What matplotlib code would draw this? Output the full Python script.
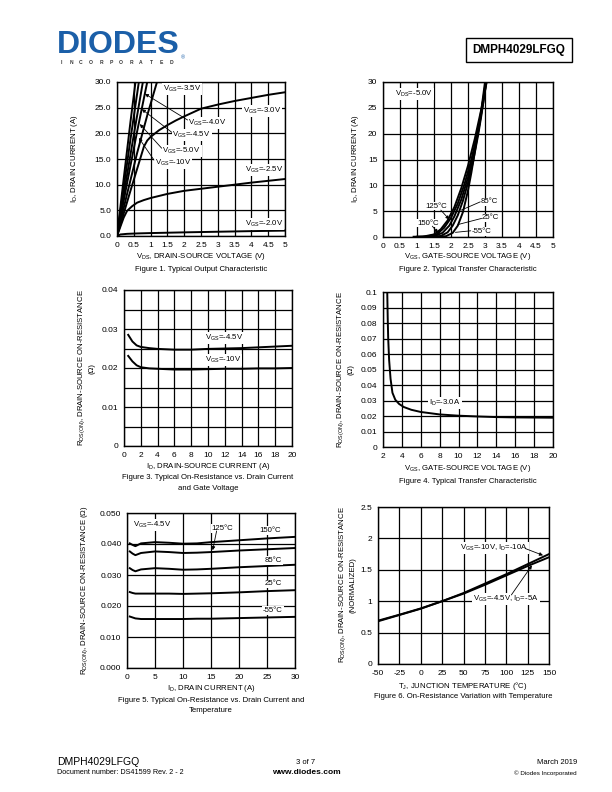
import numpy as np
import matplotlib
matplotlib.use('Agg')
import matplotlib.pyplot as plt

plt.rcParams['font.family'] = ['Liberation Sans', 'DejaVu Sans']
plt.rcParams['mathtext.fontset'] = 'custom'
plt.rcParams['mathtext.rm'] = 'Liberation Sans'
plt.rcParams['mathtext.it'] = 'Liberation Sans'
plt.rcParams['mathtext.default'] = 'rm'

# ---- Figure 1: output characteristic (VDS, ID) ----
f1_vgs_labels = ['-10V', '-5.0V', '-4.5V', '-4.0V', '-3.5V']
f1_steep_v = [[0, 0.2, 0.4, 0.55],
              [0, 0.2, 0.4, 0.65],
              [0, 0.25, 0.5, 0.77],
              [0, 0.3, 0.6, 0.9],
              [0, 0.3, 0.6, 0.9, 1.19]]
f1_steep_i = [[0, 11.2, 22.2, 30],
              [0, 9.5, 18.8, 30],
              [0, 10.0, 19.7, 30],
              [0, 10.3, 20.4, 30],
              [0, 8.2, 16.2, 23.5, 30]]
f1_v30 = [0, 0.4, 0.8, 0.9, 1.0, 1.25, 1.5, 1.75, 2.0, 2.5, 3.0, 3.5, 4.0, 4.5, 5.0]
f1_i30 = [0, 8.8, 17.4, 18.6, 19.3, 20.6, 21.6, 22.5, 23.3, 24.8, 25.6, 26.3, 26.9, 27.5, 28.0]
f1_v25 = [0, 0.1, 0.2, 0.3, 0.45, 0.6, 0.8, 1.0, 1.5, 2.0, 2.5, 3.0, 3.5, 4.0, 4.5, 5.0]
f1_i25 = [0, 1.8, 3.6, 4.9, 5.8, 6.5, 7.0, 7.4, 8.2, 8.8, 9.2, 9.6, 10.0, 10.4, 10.75, 11.1]
f1_v20 = [0, 0.1, 0.3, 0.6, 1.0, 1.5, 2.0, 2.5, 3.0, 3.5, 4.0, 4.5, 5.0]
f1_i20 = [0, 0.3, 0.42, 0.5, 0.57, 0.64, 0.71, 0.77, 0.83, 0.89, 0.95, 1.0, 1.05]

# ---- Figure 2: transfer characteristic (VGS, ID) per temperature ----
f2_temps = ['150', '125', '85', '25', '-55']
f2_v = [[0.9, 1.2, 1.5, 1.7, 1.9, 2.1, 2.3, 2.5, 2.7, 2.9, 3.05],
        [1.0, 1.3, 1.6, 1.8, 2.0, 2.2, 2.4, 2.6, 2.8, 2.95, 3.04],
        [1.2, 1.5, 1.75, 1.95, 2.1, 2.3, 2.5, 2.7, 2.85, 3.02],
        [1.4, 1.7, 1.9, 2.05, 2.2, 2.35, 2.5, 2.65, 2.8, 2.9, 3.0, 3.03],
        [1.6, 1.85, 2.05, 2.2, 2.35, 2.5, 2.6, 2.7, 2.8, 2.9, 3.0]]
f2_i = [[0.05, 0.1, 0.5, 1.5, 3.2, 5.8, 9.4, 13.8, 19.0, 25.0, 30],
        [0.05, 0.1, 0.6, 1.8, 3.7, 6.5, 10.3, 15.0, 20.8, 26.0, 30],
        [0.05, 0.15, 0.8, 2.2, 4.0, 7.2, 11.5, 17.0, 22.2, 30],
        [0.05, 0.2, 0.9, 2.2, 4.2, 7.0, 10.5, 14.6, 19.8, 23.8, 28.5, 30],
        [0.05, 0.15, 0.8, 2.2, 4.8, 9.0, 12.5, 16.5, 20.5, 25.0, 30]]

# ---- Figure 3: RDS(on) vs ID ----
f3_id = [0.5, 1.0, 1.5, 2, 3, 4, 6, 8, 10, 12, 14, 16, 18, 20]
f3_r45 = [0.0285, 0.0268, 0.0258, 0.0254, 0.0251, 0.0249, 0.0247, 0.0247, 0.0249, 0.025, 0.0251, 0.0253, 0.0255, 0.0257]
f3_r10 = [0.0231, 0.0217, 0.0207, 0.0202, 0.0199, 0.0198, 0.0196, 0.0196, 0.0197, 0.0198, 0.0198, 0.0199, 0.0199, 0.02]

# ---- Figure 4: RDS(on) vs VGS ----
f4_vgs = [2.45, 2.5, 2.55, 2.65, 2.8, 3.0, 3.3, 3.7, 4.2, 5, 6, 8, 10, 12, 14, 16, 18, 20]
f4_r = [0.1, 0.083, 0.07, 0.056, 0.044, 0.035, 0.0305, 0.0278, 0.0258, 0.0240, 0.0226, 0.0210, 0.0202, 0.0197, 0.0193, 0.0191, 0.019, 0.0189]

# ---- Figure 5: RDS(on) vs ID per temperature ----
f5_id = [0.5, 1.0, 1.5, 2.5, 5, 7.5, 10, 12.5, 15, 20, 25, 30]
f5_temps = ['150', '125', '85', '25', '-55']
f5_r = [[0.0402, 0.0397, 0.0393, 0.0402, 0.0406, 0.0404, 0.0401, 0.0402, 0.0406, 0.0412, 0.0418, 0.0423],
        [0.0376, 0.0369, 0.0364, 0.0371, 0.0376, 0.0374, 0.0371, 0.0372, 0.0374, 0.0379, 0.0383, 0.0387],
        [0.0322, 0.0316, 0.0312, 0.0318, 0.0322, 0.0320, 0.0317, 0.0318, 0.0320, 0.0325, 0.0329, 0.0333],
        [0.0245, 0.0242, 0.0240, 0.0240, 0.0240, 0.0240, 0.0239, 0.0240, 0.0241, 0.0244, 0.0248, 0.0251],
        [0.0166, 0.0163, 0.0160, 0.0158, 0.0158, 0.0158, 0.0158, 0.0159, 0.0159, 0.0161, 0.0163, 0.0165]]

# ---- Figure 6: normalized RDS(on) vs TJ ----
f6_tj = [-50, -25, 0, 25, 50, 75, 100, 125, 150]
f6_r10 = [0.68, 0.78, 0.88, 1.0, 1.13, 1.28, 1.43, 1.59, 1.75]
f6_r45 = [0.69, 0.785, 0.885, 1.0, 1.12, 1.26, 1.41, 1.56, 1.70]

W, H = 612, 792
fig = plt.figure(figsize=(W / 100, H / 100), dpi=100)


def px_axes(l, t, r, b):
    return fig.add_axes([l / W, 1 - b / H, (r - l) / W, (b - t) / H])


def ftext(x, y, s, **kw):
    kw.setdefault('ha', 'center')
    kw.setdefault('va', 'center')
    kw.setdefault('fontsize', 5.6)
    return fig.text(x / W, 1 - y / H, s, **kw)


def style(ax, xlim, ylim, xt, yt, xtl, ytl, yminor=None):
    ax.set_xlim(*xlim)
    ax.set_ylim(*ylim)
    ax.set_xticks(xt)
    ax.set_xticklabels(xtl)
    ax.set_yticks(yt)
    ax.set_yticklabels(ytl)
    if yminor is not None:
        ax.set_yticks(yminor, minor=True)
        ax.grid(True, which='minor', axis='y', color='k', lw=0.9)
        ax.tick_params(which='minor', length=0)
    ax.grid(True, color='k', lw=0.9)
    ax.set_axisbelow(True)
    ax.tick_params(length=0, labelsize=6, pad=4)
    for sp in ax.spines.values():
        sp.set_linewidth(1.0)


def lab(ax, x, y, s, ha='left'):
    ax.text(x, y, s, fontsize=5.6, ha=ha, va='center', zorder=6,
            bbox=dict(fc='white', ec='none', pad=0.6))


def arrow(ax, tail, tip, head=True):
    ax.annotate('', xy=tip, xytext=tail, zorder=7,
                arrowprops=dict(arrowstyle='-|>' if head else '-', lw=0.6,
                                color='k', mutation_scale=5, shrinkA=0, shrinkB=0))


LW = 1.4

# Figure 1
ax1 = px_axes(117, 82, 285, 236)
style(ax1, (0, 5), (0, 30), np.arange(0, 5.01, 0.5), np.arange(0, 30.1, 5),
      ['0', '0.5', '1', '1.5', '2', '2.5', '3', '3.5', '4', '4.5', '5'],
      ['%.1f' % v for v in np.arange(0, 30.1, 5)])
for v, i in zip(f1_steep_v, f1_steep_i):
    ax1.plot(v, i, color='k', lw=LW)
ax1.plot(f1_v30, f1_i30, color='k', lw=LW)
ax1.plot(f1_v25, f1_i25, color='k', lw=LW)
ax1.plot(f1_v20, f1_i20, color='k', lw=LW)
lab(ax1, 1.37, 28.6, 'V$_{GS}$=-3.5V')
lab(ax1, 2.12, 22.0, 'V$_{GS}$=-4.0V')
lab(ax1, 1.65, 19.6, 'V$_{GS}$=-4.5V')
lab(ax1, 1.35, 16.6, 'V$_{GS}$=-5.0V')
lab(ax1, 1.12, 14.3, 'V$_{GS}$=-10V')
lab(ax1, 3.76, 24.3, 'V$_{GS}$=-3.0V')
lab(ax1, 3.81, 12.9, 'V$_{GS}$=-2.5V')
lab(ax1, 3.81, 2.3, 'V$_{GS}$=-2.0V')
arrow(ax1, (2.1, 22.6), (0.83, 27.7))
arrow(ax1, (1.63, 20.2), (0.74, 24.7))
arrow(ax1, (1.33, 17.1), (0.68, 21.8))
arrow(ax1, (1.1, 14.8), (0.65, 19.1))
ftext(201, 257, 'V$_{DS}$, DRAIN-SOURCE VOLTAGE (V)')
ftext(75, 159, 'I$_D$, DRAIN CURRENT (A)', rotation=90)
ftext(201, 270, 'Figure 1. Typical Output Characteristic')

# Figure 2
ax2 = px_axes(383, 82, 553, 237)
style(ax2, (0, 5), (0, 30), np.arange(0, 5.01, 0.5), np.arange(0, 30.1, 5),
      ['0', '0.5', '1', '1.5', '2', '2.5', '3', '3.5', '4', '4.5', '5'],
      ['%d' % v for v in np.arange(0, 30.1, 5)])
for v, i in zip(f2_v, f2_i):
    ax2.plot(v, i, color='k', lw=LW)
lab(ax2, 0.36, 27.7, 'V$_{DS}$=-5.0V')
lab(ax2, 1.25, 6.0, '125°C')
arrow(ax2, (1.7, 5.2), (1.95, 3.4))
lab(ax2, 1.0, 2.7, '150°C')
arrow(ax2, (1.45, 2.1), (1.62, 0.8))
lab(ax2, 2.88, 6.8, '85°C')
arrow(ax2, (2.86, 6.8), (2.3, 5.2), head=False)
lab(ax2, 2.9, 3.7, '25°C')
arrow(ax2, (2.9, 3.6), (2.2, 2.4), head=False)
lab(ax2, 2.6, 1.1, '-55°C')
arrow(ax2, (2.58, 1.2), (2.13, 0.9), head=False)
ftext(468, 257, 'V$_{GS}$, GATE-SOURCE VOLTAGE (V)')
ftext(355, 159, 'I$_D$, DRAIN CURRENT (A)', rotation=90)
ftext(468, 270, 'Figure 2. Typical Transfer Characteristic')

# Figure 3
ax3 = px_axes(124, 290, 292, 446)
style(ax3, (0, 20), (0, 0.04), np.arange(0, 21, 2), [0, 0.01, 0.02, 0.03, 0.04],
      [str(v) for v in range(0, 21, 2)], ['0', '0.01', '0.02', '0.03', '0.04'],
      yminor=[0.005, 0.015, 0.025, 0.035])
ax3.plot(f3_id, f3_r45, color='k', lw=LW)
ax3.plot(f3_id, f3_r10, color='k', lw=LW)
lab(ax3, 9.7, 0.0278, 'V$_{GS}$=-4.5V')
lab(ax3, 9.6, 0.0221, 'V$_{GS}$=-10V')
ftext(208, 467, 'I$_D$, DRAIN-SOURCE CURRENT (A)')
ftext(86, 368, 'R$_{DS(ON)}$, DRAIN-SOURCE ON-RESISTANCE\n(Ω)', rotation=90)
ftext(208, 478, 'Figure 3. Typical On-Resistance vs. Drain Current')
ftext(208, 488, 'and Gate Voltage')

# Figure 4
ax4 = px_axes(383, 292, 553, 447)
yt4 = np.round(np.arange(0, 0.1001, 0.01), 2)
style(ax4, (2, 20), (0, 0.1), np.arange(2, 21, 2), yt4,
      [str(v) for v in range(2, 21, 2)], ['0'] + ['%g' % v for v in yt4[1:]])
ax4.plot(f4_vgs, f4_r, color='k', lw=LW)
lab(ax4, 6.9, 0.0285, 'I$_D$=-3.0A')
ftext(468, 469, 'V$_{GS}$, GATE-SOURCE VOLTAGE (V)')
ftext(345, 370, 'R$_{DS(ON)}$, DRAIN-SOURCE ON-RESISTANCE\n(Ω)', rotation=90)
ftext(468, 481, 'Figure 4. Typical Transfer Characteristic')

# Figure 5
ax5 = px_axes(127, 513, 295, 668)
yt5 = np.round(np.arange(0, 0.0501, 0.01), 3)
style(ax5, (0, 30), (0, 0.05), np.arange(0, 31, 5), yt5,
      [str(v) for v in range(0, 31, 5)], ['%.3f' % v for v in yt5])
for r in f5_r:
    ax5.plot(f5_id, r, color='k', lw=LW)
lab(ax5, 1.1, 0.0462, 'V$_{GS}$=-4.5V')
lab(ax5, 15.1, 0.0449, '125°C')
arrow(ax5, (16.0, 0.0442), (15.3, 0.0380))
lab(ax5, 23.7, 0.0444, '150°C')
lab(ax5, 24.6, 0.0347, '85°C')
lab(ax5, 24.6, 0.0271, '25°C')
lab(ax5, 24.3, 0.0185, '-55°C')
ftext(211, 689, 'I$_D$, DRAIN CURRENT (A)')
ftext(85, 590, 'R$_{DS(ON)}$, DRAIN-SOURCE ON-RESISTANCE (Ω)', rotation=90)
ftext(211, 700, 'Figure 5. Typical On-Resistance vs. Drain Current and')
ftext(211, 711, 'Temperature')

# Figure 6
ax6 = px_axes(378, 507, 549, 664)
style(ax6, (-50, 150), (0, 2.5), np.arange(-50, 151, 25), np.arange(0, 2.51, 0.5),
      [str(v) for v in range(-50, 151, 25)], ['0', '0.5', '1', '1.5', '2', '2.5'])
ax6.plot(f6_tj, f6_r10, color='k', lw=LW)
ax6.plot(f6_tj, f6_r45, color='k', lw=LW)
lab(ax6, 46, 1.85, 'V$_{GS}$=-10V, I$_D$=-10A')
arrow(ax6, (122, 1.84), (143, 1.73))
lab(ax6, 61.5, 1.035, 'V$_{GS}$=-4.5V, I$_D$=-5A')
arrow(ax6, (106, 1.1), (130, 1.57))
ftext(463, 686, 'T$_J$, JUNCTION TEMPERATURE (°C)')
ftext(347, 585, 'R$_{DS(ON)}$, DRAIN-SOURCE ON-RESISTANCE\n(NORMALIZED)', rotation=90)
ftext(463, 697, 'Figure 6. On-Resistance Variation with Temperature')

# header
ftext(57, 45, 'DIODES', ha='left', fontsize=23, fontweight='bold', color='#1b5fa8')
for k, ch in enumerate('INCORPORATED'):
    ftext(61 + k * 10.0, 62, ch, fontsize=3.6, fontweight='bold', color='#333333')
ftext(181, 58, '®', ha='left', fontsize=4, color='#1b5fa8')
ftext(519, 50, 'DMPH4029LFGQ', fontsize=8.5, fontweight='bold',
      bbox=dict(fc='white', ec='k', lw=1.0, boxstyle='square,pad=0.55'))

# footer
ftext(57, 762, 'DMPH4029LFGQ', ha='left', fontsize=7.5)
ftext(57, 773, 'Document number: DS41599 Rev. 2 - 2', ha='left', fontsize=5.2)
ftext(306, 762, '3 of 7', fontsize=5.5)
ftext(306, 773, 'www.diodes.com', fontsize=6, fontweight='bold')
ftext(577, 762, 'March 2019', ha='right', fontsize=5.5)
ftext(577, 773, '© Diodes Incorporated', ha='right', fontsize=4.5)

fig.savefig('out.png', dpi=100)
